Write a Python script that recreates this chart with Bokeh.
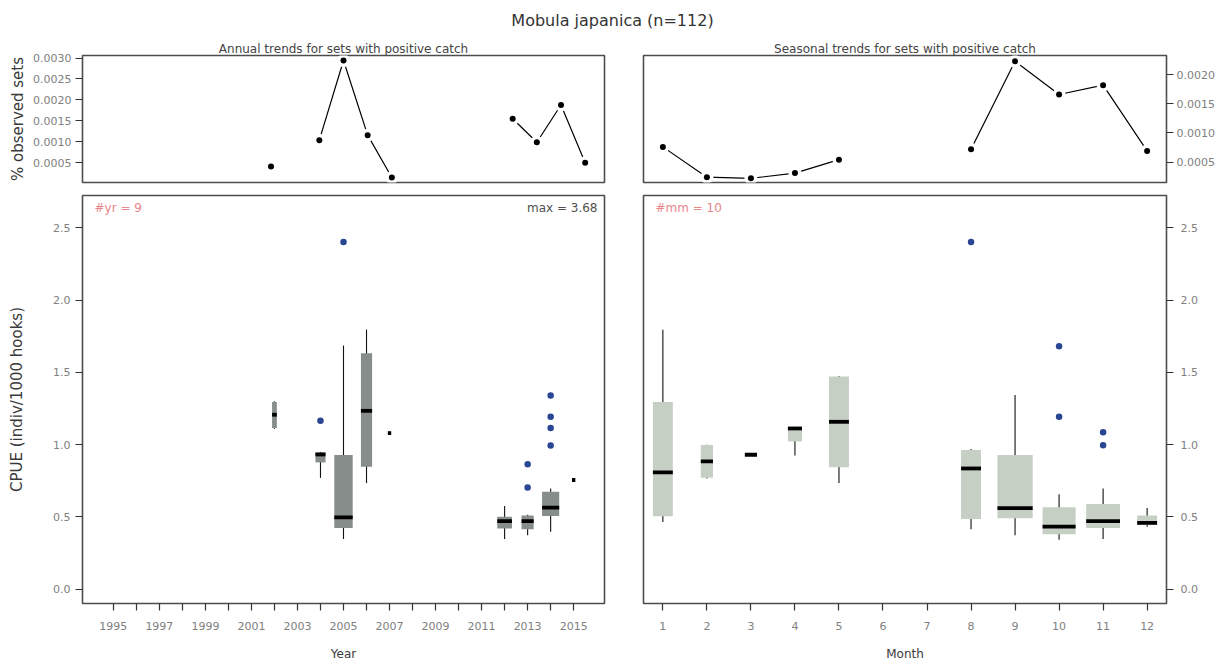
import math
from bokeh.plotting import figure
from bokeh.models import Range1d, FixedTicker, PrintfTickFormatter, Label
from bokeh.layouts import column, row
from bokeh.embed import file_html
from bokeh.resources import INLINE

FONT = "DejaVu Sans"
nan = float("nan")

# ---------------- data ----------------
title_text = "Mobula japanica (n=112)"
subtitle_left = "Annual trends for sets with positive catch"
subtitle_right = "Seasonal trends for sets with positive catch"

# top-left: annual proportion of observed sets with positive catch
trend_years = [2002, 2003, 2004, 2005, 2006, 2007, 2008, 2009, 2010, 2011, 2012, 2013, 2014, 2015]
trend_year_pct = [0.00041, nan, 0.00104, 0.00294, 0.00116, 0.00015, nan, nan, nan, nan,
                  0.00155, 0.00099, 0.00188, 0.00050]

# top-right: seasonal proportion
trend_months = [1, 2, 3, 4, 5, 6, 7, 8, 9, 10, 11, 12]
trend_month_pct = [0.00076, 0.00024, 0.00022, 0.00031, 0.00054, nan, nan,
                   0.00072, 0.00223, 0.00166, 0.00182, 0.00069]

# bottom-left: CPUE boxplots by year
box_years = [2002, 2004, 2005, 2006, 2007, 2012, 2013, 2014, 2015]
year_n = [2, 9, 30, 11, 1, 19, 13, 26, 1]
year_lo = [1.110, 0.770, 0.347, 0.734, 1.080, 0.347, 0.372, 0.396, 0.755]
year_q1 = [1.115, 0.877, 0.423, 0.847, 1.080, 0.420, 0.414, 0.506, 0.755]
year_med = [1.207, 0.932, 0.497, 1.234, 1.080, 0.471, 0.471, 0.564, 0.755]
year_q3 = [1.295, 0.946, 0.928, 1.633, 1.080, 0.501, 0.510, 0.674, 0.755]
year_hi = [1.300, 0.950, 1.686, 1.797, 1.080, 0.575, 0.515, 0.697, 0.755]
year_out_x = [2004, 2005, 2013, 2013, 2014, 2014, 2014, 2014]
year_out_y = [1.165, 2.403, 0.864, 0.704, 1.340, 1.193, 1.115, 0.994]

# bottom-right: CPUE boxplots by month
box_months = [1, 2, 3, 4, 5, 8, 9, 10, 11, 12]
month_n = [8, 3, 3, 4, 8, 8, 25, 22, 23, 8]
month_lo = [0.465, 0.766, 0.930, 0.925, 0.734, 0.414, 0.372, 0.342, 0.347, 0.432]
month_q1 = [0.504, 0.771, 0.930, 1.022, 0.843, 0.485, 0.490, 0.379, 0.423, 0.444]
month_med = [0.808, 0.884, 0.930, 1.112, 1.158, 0.835, 0.561, 0.432, 0.471, 0.458]
month_q3 = [1.295, 0.997, 0.930, 1.112, 1.472, 0.962, 0.928, 0.566, 0.589, 0.510]
month_hi = [1.795, 1.000, 0.930, 1.115, 1.475, 0.970, 1.343, 0.656, 0.697, 0.561]
month_out_x = [8, 10, 10, 11, 11]
month_out_y = [2.403, 1.682, 1.193, 1.085, 0.995]

year_ticks = list(range(1995, 2016))
month_ticks = list(range(1, 13))
cpue_ticks = [0.0, 0.5, 1.0, 1.5, 2.0, 2.5]
pct_ticks_left = [0.0005, 0.0010, 0.0015, 0.0020, 0.0025, 0.0030]
pct_ticks_right = [0.0005, 0.0010, 0.0015, 0.0020]
n_years_text = "#yr = 9"
n_months_text = "#mm = 10"
max_text = "max = 3.68"

# ---------------- styling helpers ----------------
OUTLINE = "#4d4d4d"
TICK_COL = "#333333"
LABEL_COL = "#808080"


def make_fig(w, h, xr, yr, ml, mr, mt, mb, xloc, yloc):
    p = figure(width=w, height=h, x_range=xr, y_range=yr, output_backend="svg",
               toolbar_location=None, x_axis_location=xloc, y_axis_location=yloc,
               min_border_left=ml, min_border_right=mr, min_border_top=mt,
               min_border_bottom=mb)
    p.grid.visible = False
    p.outline_line_color = OUTLINE
    p.outline_line_width = 1.6
    p.background_fill_color = "white"
    p.border_fill_color = "white"
    return p


def style_axis(ax, ticks, fmt=None, standoff=4):
    ax.ticker = FixedTicker(ticks=ticks)
    if fmt:
        ax.formatter = PrintfTickFormatter(format=fmt)
    ax.axis_line_color = None
    ax.major_tick_out = 7
    ax.major_tick_in = 0
    ax.major_tick_line_color = TICK_COL
    ax.major_tick_line_width = 1.2
    ax.minor_tick_line_color = None
    ax.major_label_text_font = FONT
    ax.major_label_text_font_size = "11px"
    ax.major_label_text_color = LABEL_COL
    ax.major_label_standoff = standoff
    ax.axis_label_text_font = FONT
    ax.axis_label_text_font_style = "normal"
    ax.axis_label_text_color = "#3a3a3a"


def set_subtitle(p, text):
    p.title.text = text
    p.title.align = "center"
    p.title.text_font = FONT
    p.title.text_font_size = "12px"
    p.title.text_font_style = "normal"
    p.title.text_color = "#444444"
    p.title.standoff = -1
    p.title.offset = 0


def trend_panel(p, xs, ys):
    p.line(xs, ys, line_color="black", line_width=1.2)
    p.scatter(xs, ys, size=13, fill_color="white", line_color=None)
    p.scatter(xs, ys, size=6, fill_color="black", line_color=None)


def box_panel(p, xs, n, lo, q1, med, q3, hi, ox, oy, fill):
    nmax = max(n)
    widths = [0.8 * math.sqrt(k / nmax) for k in n]
    p.segment(x0=xs, y0=lo, x1=xs, y1=hi, line_color="#111111", line_width=1.1)
    p.vbar(x=xs, width=widths, bottom=q1, top=q3, fill_color=fill, line_color=None)
    p.rect(x=xs, y=med, width=widths, height=3.8, height_units="screen",
           fill_color="black", line_color=None)
    p.scatter(ox, oy, size=6.5, fill_color="#294693", line_color=None)


# ---------------- layout geometry ----------------
W_LEFT, W_RIGHT = 624, 600
H_TITLE, H_TOP, H_BOT = 40, 150, 473

# ---------------- title ----------------
pt = figure(width=W_LEFT + W_RIGHT, height=H_TITLE, x_range=Range1d(0, 1), y_range=Range1d(0, 1),
            output_backend="svg", toolbar_location=None, x_axis_location=None, y_axis_location=None,
            min_border=0)
pt.grid.visible = False
pt.outline_line_color = None
pt.add_layout(Label(x=0.5, y=0.5, text=title_text, text_align="center", text_baseline="middle",
                    text_font=FONT, text_font_size="16px", text_color="#333333"))

# ---------------- top-left ----------------
tl = make_fig(W_LEFT, H_TOP, Range1d(1994.2, 2015.8), Range1d(0.00003, 0.00306),
              82, 20, 15, 8, None, "left")
style_axis(tl.yaxis[0], pct_ticks_left, "%.4f", standoff=4)
tl.yaxis[0].axis_label = "% observed sets"
tl.yaxis[0].axis_label_text_font_size = "15px"
tl.yaxis[0].axis_label_standoff = 3
trend_panel(tl, trend_years, trend_year_pct)
set_subtitle(tl, subtitle_left)

# ---------------- top-right ----------------
tr = make_fig(W_RIGHT, H_TOP, Range1d(0.56, 12.44), Range1d(0.000148, 0.00233),
              19, 58, 15, 8, None, "right")
style_axis(tr.yaxis[0], pct_ticks_right, "%.4f", standoff=3)
trend_panel(tr, trend_months, trend_month_pct)
set_subtitle(tr, subtitle_right)

# ---------------- bottom-left ----------------
bl = make_fig(W_LEFT, H_BOT, Range1d(1993.66, 2016.34), Range1d(-0.10, 2.725),
              82, 20, 5, 59, "below", "left")
style_axis(bl.yaxis[0], cpue_ticks, "%.1f", standoff=5)
bl.yaxis[0].axis_label = "CPUE (indiv/1000 hooks)"
bl.yaxis[0].axis_label_text_font_size = "15px"
bl.yaxis[0].axis_label_standoff = 24
style_axis(bl.xaxis[0], year_ticks, None, standoff=11)
bl.xaxis[0].major_label_overrides = {y: ("" if y % 2 == 0 else str(y)) for y in year_ticks}
bl.xaxis[0].axis_label = "Year"
bl.xaxis[0].axis_label_text_font_size = "12px"
bl.xaxis[0].axis_label_standoff = 14
box_panel(bl, box_years, year_n, year_lo, year_q1, year_med, year_q3, year_hi,
          year_out_x, year_out_y, "#868d8a")
bl.add_layout(Label(x=bl.x_range.start, y=bl.y_range.end, x_offset=12, y_offset=-5,
                    text=n_years_text, text_align="left", text_baseline="top",
                    text_font=FONT, text_font_size="12px", text_color="#e8868b"))
bl.add_layout(Label(x=bl.x_range.end, y=bl.y_range.end, x_offset=-7, y_offset=-5,
                    text=max_text, text_align="right", text_baseline="top",
                    text_font=FONT, text_font_size="12px", text_color="#505050"))

# ---------------- bottom-right ----------------
br = make_fig(W_RIGHT, H_BOT, Range1d(0.56, 12.44), Range1d(-0.10, 2.725),
              19, 58, 5, 59, "below", "right")
style_axis(br.yaxis[0], cpue_ticks, "%.1f", standoff=7)
style_axis(br.xaxis[0], month_ticks, None, standoff=11)
br.xaxis[0].axis_label = "Month"
br.xaxis[0].axis_label_text_font_size = "12px"
br.xaxis[0].axis_label_standoff = 14
box_panel(br, box_months, month_n, month_lo, month_q1, month_med, month_q3, month_hi,
          month_out_x, month_out_y, "#c5cfc4")
br.add_layout(Label(x=br.x_range.start, y=br.y_range.end, x_offset=12, y_offset=-5,
                    text=n_months_text, text_align="left", text_baseline="top",
                    text_font=FONT, text_font_size="12px", text_color="#e8868b"))

layout = column(pt, row(tl, tr), row(bl, br))

with open("out.html", "w") as f:
    f.write(file_html(layout, INLINE))
